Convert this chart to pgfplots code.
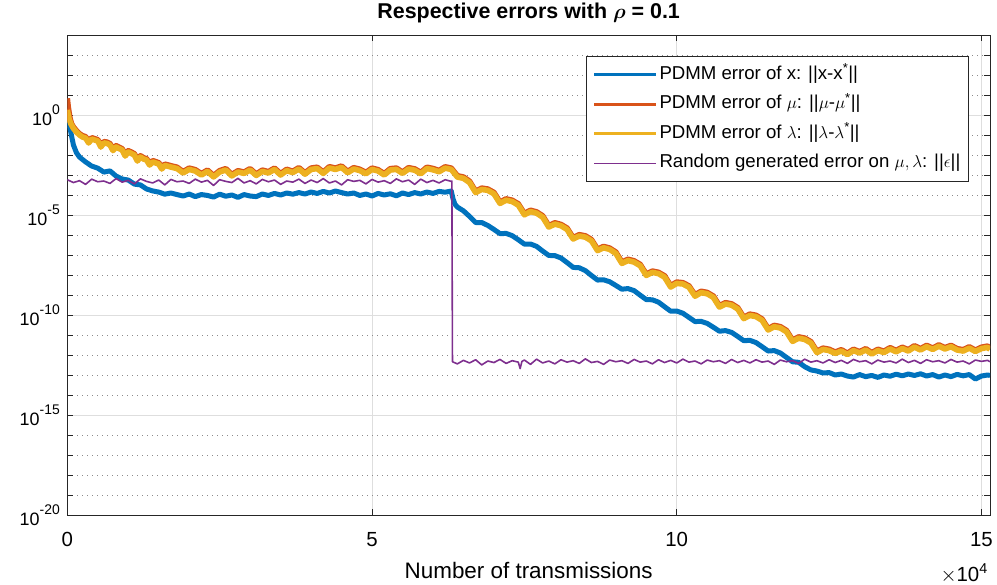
\documentclass[border=0pt]{standalone}
\usepackage{pgfplots}
\pgfplotsset{compat=1.18}
\usepackage{pgfplotstable}
\usepackage{fontspec}
\setmainfont{Liberation Sans}

\definecolor{mblue}{rgb}{0,0.447,0.741}
\definecolor{morange}{rgb}{0.85,0.325,0.098}
\definecolor{myellow}{rgb}{0.929,0.694,0.125}
\definecolor{mpurple}{rgb}{0.494,0.184,0.556}

% y tick label: 10 with a raised exponent
\newcommand{\tenpow}[1]{10\raisebox{0.62em}{\fontsize{14}{14}\selectfont #1}}

% PDMM error of x
\pgfplotstableread[row sep=\\]{x y\\
0 1.26\\ 500 0.18\\ 1000 0.032\\ 1500 0.013\\ 2000 7.9e-3\\ 3000 4.5e-3\\ 4000 2.8e-3\\ 5000 2.2e-3\\
6000 1.4e-3\\ 7000 1.6e-3\\ 8000 8.9e-4\\ 9000 6.3e-4\\ 10000 5.6e-4\\ 11000 3.5e-4\\ 12000 3.2e-4\\
13000 2.0e-4\\ 14000 1.6e-4\\ 15000 1.4e-4\\ 16000 1.1e-4\\ 17000 1.26e-4\\ 18000 1.05e-4\\ 19000 8.9e-5\\
20000 1.12e-4\\ 21000 8.3e-5\\ 22000 1.05e-4\\ 23000 9.5e-5\\ 24000 7.9e-5\\ 25000 1.1e-4\\ 26000 8.7e-5\\
27000 1.0e-4\\ 28000 7.6e-5\\ 29000 1.05e-4\\ 30000 8.9e-5\\ 31000 8.3e-5\\ 32000 1.12e-4\\ 33000 9.5e-5\\
34000 1.2e-4\\ 35000 1.0e-4\\ 36000 1.26e-4\\ 37000 1.1e-4\\ 38000 1.32e-4\\ 39000 1.12e-4\\ 40000 1.41e-4\\
41000 1.2e-4\\ 42000 1.51e-4\\ 43000 1.26e-4\\ 44000 1.58e-4\\ 45000 1.32e-4\\ 46000 1.12e-4\\ 47000 1.26e-4\\
48000 9.5e-5\\ 49000 1.12e-4\\ 50000 8.9e-5\\ 51000 1.2e-4\\ 52000 1.0e-4\\ 53000 1.15e-4\\ 54000 9.1e-5\\
55000 1.26e-4\\ 56000 1.05e-4\\ 57000 1.32e-4\\ 58000 1.12e-4\\ 59000 1.41e-4\\ 60000 1.2e-4\\ 61000 1.51e-4\\
62000 1.38e-4\\ 63000 1.58e-4\\ 63300 6.3e-5\\ 63600 3.5e-5\\ 64000 2.5e-5\\
65000 1.62e-5\\ 66000 8.5e-6\\ 67000 4.2e-6\\ 68000 4.2e-6\\ 69000 3.0e-6\\ 70000 1.9e-6\\ 71000 1.17e-6\\
72000 1.2e-6\\ 73000 9.3e-7\\ 74000 5.8e-7\\ 75000 3.5e-7\\ 76000 3.55e-7\\ 77000 2.7e-7\\ 78000 1.58e-7\\
79000 9.5e-8\\ 80000 9.3e-8\\ 81000 7.1e-8\\ 82000 4.2e-8\\ 83000 2.4e-8\\ 84000 2.3e-8\\ 85000 1.66e-8\\
86000 9.5e-9\\ 87000 5.6e-9\\ 88000 5.75e-9\\ 89000 4.6e-9\\ 90000 3.0e-9\\ 91000 1.95e-9\\ 92000 2.1e-9\\
93000 1.66e-9\\ 94000 9.8e-10\\ 95000 5.9e-10\\ 96000 5.75e-10\\ 97000 4.4e-10\\ 98000 2.6e-10\\ 99000 1.55e-10\\
100000 1.58e-10\\ 101000 1.23e-10\\ 102000 7.6e-11\\ 103000 4.7e-11\\ 104000 4.8e-11\\ 105000 3.8e-11\\
106000 2.45e-11\\ 107000 1.55e-11\\ 108000 1.66e-11\\ 109000 1.35e-11\\ 110000 8.5e-12\\ 111000 5.2e-12\\
112000 5.4e-12\\ 113000 4.2e-12\\ 114000 2.6e-12\\ 115000 1.58e-12\\ 116000 1.66e-12\\ 117000 1.26e-12\\
118000 7.6e-13\\ 119000 4.6e-13\\ 120000 4.3e-13\\ 121000 2.6e-13\\ 122000 1.8e-13\\ 123000 1.58e-13\\
124000 1.26e-13\\ 125000 1.32e-13\\ 126000 1.0e-13\\ 127000 1.12e-13\\ 128000 8.9e-14\\ 129000 7.9e-14\\
130000 1.05e-13\\ 131000 8.3e-14\\ 132000 9.5e-14\\ 133000 7.6e-14\\ 134000 1.0e-13\\ 135000 8.7e-14\\
136000 1.1e-13\\ 137000 9.1e-14\\ 138000 1.12e-13\\ 139000 9.5e-14\\ 140000 1.15e-13\\ 141000 8.9e-14\\
142000 1.05e-13\\ 143000 7.9e-14\\ 144000 1.0e-13\\ 145000 8.3e-14\\ 146000 1.07e-13\\ 147000 9.1e-14\\
148000 1.05e-13\\ 149000 6.3e-14\\ 150000 8.9e-14\\ 151000 1.0e-13\\ 151400 9.5e-14\\
}\xerr

% PDMM error of mu: first transmissions (later it runs along the lambda error)
\pgfplotstableread[row sep=\\]{x y\\
0 6.8\\ 150 2.5\\ 400 0.8\\ 700 0.33\\ 1000 0.23\\ 1500 0.15\\
}\mustart

% PDMM error of lambda
\pgfplotstableread[row sep=\\]{x y\\
0 1.78\\ 300 0.63\\ 600 0.355\\ 1000 0.214\\ 1500 0.141\\ 2000 0.1\\ 2500 7.9e-2\\ 3000 7.1e-2\\
3500 4.0e-2\\ 4000 6.3e-2\\ 4500 5.6e-2\\ 5000 5.0e-2\\ 5500 2.5e-2\\ 6000 4.0e-2\\ 6500 3.8e-2\\
7000 3.16e-2\\ 7500 1.66e-2\\ 8000 2.5e-2\\ 8500 2.1e-2\\ 9000 1.78e-2\\ 9500 8.9e-3\\ 10000 1.41e-2\\
10500 1.2e-2\\ 11000 1.0e-2\\ 11500 5.0e-3\\ 12000 7.9e-3\\ 12500 6.3e-3\\ 13000 5.6e-3\\ 13500 3.16e-3\\
14000 4.5e-3\\ 15000 3.55e-3\\ 15500 2.0e-3\\ 16000 3.0e-3\\ 17000 2.5e-3\\ 18000 2.1e-3\\ 19000 1.26e-3\\
20000 1.9e-3\\ 21000 1.58e-3\\ 22000 1.0e-3\\ 23000 1.51e-3\\ 24000 8.0e-4\\ 25000 1.41e-3\\ 26000 1.78e-3\\
27000 9.0e-4\\ 28000 1.41e-3\\ 29000 1.2e-3\\ 30000 1.78e-3\\ 31000 9.5e-4\\ 32000 1.51e-3\\ 33000 1.26e-3\\
34000 1.9e-3\\ 35000 1.0e-3\\ 36000 1.66e-3\\ 37000 1.32e-3\\ 38000 2.0e-3\\ 39000 1.1e-3\\ 40000 1.9e-3\\
41000 2.1e-3\\ 42000 1.2e-3\\ 43000 2.24e-3\\ 44000 1.9e-3\\ 45000 2.4e-3\\ 46000 1.3e-3\\ 47000 2.0e-3\\
48000 1.66e-3\\ 49000 1.15e-3\\ 50000 1.9e-3\\ 51000 1.58e-3\\ 52000 1.0e-3\\ 53000 1.78e-3\\ 54000 1.9e-3\\
55000 1.2e-3\\ 56000 2.0e-3\\ 57000 1.74e-3\\ 58000 1.15e-3\\ 59000 2.1e-3\\ 60000 1.82e-3\\ 61000 1.45e-3\\
62000 2.2e-3\\ 63000 1.9e-3\\ 64000 7.9e-4\\ 65000 6.8e-4\\ 66000 4.2e-4\\ 67000 1.32e-4\\ 68000 1.9e-4\\
69000 1.7e-4\\ 70000 1.15e-4\\ 71000 3.8e-5\\ 72000 5.5e-5\\ 73000 4.7e-5\\ 74000 3.1e-5\\ 75000 1.02e-5\\
76000 1.48e-5\\ 77000 1.23e-5\\ 78000 7.8e-6\\ 79000 2.5e-6\\ 80000 3.5e-6\\ 81000 2.9e-6\\ 82000 1.9e-6\\
83000 6.3e-7\\ 84000 8.9e-7\\ 85000 7.8e-7\\ 86000 5.1e-7\\ 87000 1.66e-7\\ 88000 2.3e-7\\ 89000 1.9e-7\\
90000 1.2e-7\\ 91000 3.8e-8\\ 92000 5.25e-8\\ 93000 4.4e-8\\ 94000 2.9e-8\\ 95000 9.5e-9\\ 96000 1.35e-8\\
97000 1.17e-8\\ 98000 7.8e-9\\ 99000 2.5e-9\\ 100000 3.8e-9\\ 101000 3.55e-9\\ 102000 2.45e-9\\
103000 8.7e-10\\ 104000 1.32e-9\\ 105000 1.15e-9\\ 106000 7.6e-10\\ 107000 2.5e-10\\ 108000 3.55e-10\\
109000 3.1e-10\\ 110000 2.0e-10\\ 111000 6.6e-11\\ 112000 9.5e-11\\ 113000 8.3e-11\\ 114000 5.4e-11\\
115000 1.78e-11\\ 116000 2.6e-11\\ 117000 2.24e-11\\ 118000 1.45e-11\\ 119000 4.8e-12\\ 120000 6.9e-12\\
121000 6.0e-12\\ 122000 4.0e-12\\ 123000 1.32e-12\\ 124000 1.9e-12\\ 125000 1.66e-12\\ 126000 1.2e-12\\
127000 1.58e-12\\ 128000 1.05e-12\\ 129000 1.66e-12\\ 130000 1.26e-12\\ 131000 1.78e-12\\ 132000 1.12e-12\\
133000 1.66e-12\\ 134000 1.32e-12\\ 135000 2.0e-12\\ 136000 1.45e-12\\ 137000 2.1e-12\\ 138000 1.58e-12\\
139000 2.5e-12\\ 140000 1.78e-12\\ 141000 2.6e-12\\ 142000 1.9e-12\\ 143000 2.75e-12\\ 144000 2.0e-12\\
145000 2.6e-12\\ 146000 1.78e-12\\ 147000 1.58e-12\\ 148000 2.2e-12\\ 149000 1.5e-12\\ 150000 2.1e-12\\
151000 2.4e-12\\ 151400 1.9e-12\\
}\lambdaerr

% random error added on mu and lambda
\pgfplotstableread[row sep=\\]{x y\\
0 5.8e-4\\ 1000 4.2e-4\\ 2000 5.2e-4\\ 3000 3.4e-4\\ 4000 6.2e-4\\ 5000 4.6e-4\\ 6000 5.0e-4\\ 7000 3.8e-4\\
8000 6.6e-4\\ 9000 4.4e-4\\ 10000 5.4e-4\\ 11000 3.6e-4\\ 12000 6.4e-4\\ 13000 4.8e-4\\ 14000 4.0e-4\\
15000 5.6e-4\\ 16000 3.2e-4\\ 17000 6.0e-4\\ 18000 4.6e-4\\ 19000 5.0e-4\\ 20000 3.8e-4\\ 21000 6.2e-4\\
22000 4.4e-4\\ 23000 5.4e-4\\ 24000 3.0e-4\\ 25000 5.8e-4\\ 26000 4.8e-4\\ 27000 4.2e-4\\ 28000 6.8e-4\\
29000 4.0e-4\\ 30000 5.2e-4\\ 31000 3.6e-4\\ 32000 6.0e-4\\ 33000 4.6e-4\\ 34000 5.6e-4\\ 35000 3.4e-4\\
36000 5.0e-4\\ 37000 4.4e-4\\ 38000 6.2e-4\\ 39000 3.8e-4\\ 40000 5.6e-4\\ 41000 4.2e-4\\ 42000 6.6e-4\\
43000 4.0e-4\\ 44000 5.0e-4\\ 45000 3.2e-4\\ 46000 5.8e-4\\ 47000 4.8e-4\\ 48000 5.4e-4\\ 49000 3.6e-4\\
50000 6.0e-4\\ 51000 4.4e-4\\ 52000 5.2e-4\\ 53000 3.8e-4\\ 54000 6.4e-4\\ 55000 4.6e-4\\ 56000 5.6e-4\\
57000 3.4e-4\\ 58000 6.2e-4\\ 59000 4.2e-4\\ 60000 5.4e-4\\ 61000 4.0e-4\\ 62000 5.8e-4\\ 63000 4.8e-4\\
63100 5.0e-4\\ 63200 4.6e-13\\ 64000 3.6e-13\\ 65000 5.4e-13\\ 66000 4.0e-13\\ 67000 5.8e-13\\
68000 3.2e-13\\ 69000 5.0e-13\\ 70000 4.2e-13\\ 71000 6.0e-13\\ 72000 3.8e-13\\ 73000 5.2e-13\\
74000 4.4e-13\\ 74300 2.1e-13\\ 74600 4.8e-13\\ 75000 5.6e-13\\ 76000 3.4e-13\\ 77000 6.2e-13\\
78000 4.0e-13\\ 79000 5.0e-13\\ 80000 3.6e-13\\ 81000 5.8e-13\\ 82000 4.4e-13\\ 83000 5.2e-13\\
84000 3.8e-13\\ 85000 6.4e-13\\ 86000 4.2e-13\\ 87000 4.8e-13\\ 88000 3.4e-13\\ 89000 5.6e-13\\
90000 4.6e-13\\ 91000 5.2e-13\\ 92000 3.8e-13\\ 93000 6.0e-13\\ 94000 4.4e-13\\ 95000 5.0e-13\\
96000 3.6e-13\\ 97000 5.8e-13\\ 98000 4.2e-13\\ 99000 5.4e-13\\ 100000 4.0e-13\\ 101000 6.2e-13\\
102000 4.4e-13\\ 103000 5.0e-13\\ 104000 3.6e-13\\ 105000 5.6e-13\\ 106000 4.6e-13\\ 107000 5.2e-13\\
108000 3.8e-13\\ 109000 6.0e-13\\ 110000 4.2e-13\\ 111000 5.4e-13\\ 112000 4.0e-13\\ 113000 5.8e-13\\
114000 4.4e-13\\ 115000 5.0e-13\\ 116000 3.4e-13\\ 117000 5.6e-13\\ 118000 4.6e-13\\ 119000 5.2e-13\\
120000 3.8e-13\\ 121000 6.2e-13\\ 122000 4.4e-13\\ 123000 5.2e-13\\ 124000 4.0e-13\\ 125000 5.8e-13\\
126000 4.2e-13\\ 127000 5.4e-13\\ 128000 3.8e-13\\ 129000 6.0e-13\\ 130000 4.6e-13\\ 131000 5.2e-13\\
132000 3.6e-13\\ 133000 5.6e-13\\ 134000 4.4e-13\\ 135000 5.0e-13\\ 136000 4.0e-13\\ 137000 6.2e-13\\
138000 4.2e-13\\ 139000 5.4e-13\\ 140000 3.8e-13\\ 141000 5.8e-13\\ 142000 4.6e-13\\ 143000 5.2e-13\\
144000 4.0e-13\\ 145000 6.0e-13\\ 146000 4.4e-13\\ 147000 5.0e-13\\ 148000 3.6e-13\\ 149000 5.6e-13\\
150000 4.8e-13\\ 151000 5.4e-13\\ 151400 4.6e-13\\
}\epserr

\begin{document}
\begin{tikzpicture}
\begin{axis}[
  scale only axis, width=922.7bp, height=480bp,
  xmin=0, xmax=151400,
  ymode=log, log basis y=10, ymin=1e-20, ymax=1e4,
  xtick={0,50000,100000,150000}, xticklabels={0,5,10,15}, scaled x ticks=false,
  ytick={1e-20,1e-15,1e-10,1e-5,1},
  yticklabels={\tenpow{-20},\tenpow{-15},\tenpow{-10},\tenpow{-5},\tenpow{0}},
  minor ytick={1e-19,1e-18,1e-17,1e-16,1e-14,1e-13,1e-12,1e-11,1e-9,1e-8,1e-7,1e-6,1e-4,1e-3,1e-2,1e-1,1e1,1e2,1e3},
  xmajorgrids, ymajorgrids, yminorgrids,
  major grid style={draw=black!13, line width=0.8bp},
  minor grid style={draw=black!45, line width=0.8bp, dash pattern=on 1bp off 4bp},
  tick align=inside,
  major tick length=6bp, minor tick length=6bp,
  axis line style={draw=black!85, line width=0.8bp},
  every tick/.style={draw=black!85, line width=0.8bp},
  yticklabel style={font=\fontsize{18}{20}\selectfont, xshift=-4bp},
  xticklabel style={font=\fontsize{20.5}{22}\selectfont, anchor=base, yshift=-31.5bp},
  xlabel={Number of transmissions},
  xlabel style={font=\fontsize{22.5}{26}\selectfont, at={(axis description cs:0.5,0)}, anchor=base, yshift=-63bp},
  title={\textbf{Respective errors with {\boldmath$\rho$} = 0.1}},
  title style={font=\fontsize{21.5}{24}\selectfont, at={(axis description cs:0.5,1)}, anchor=base, yshift=10.5bp},
  legend style={at={(0.977,0.956)}, anchor=north east, draw=black!85, line width=0.8bp, fill=white,
    font=\fontsize{18.7}{21}\selectfont, row sep=11bp, inner xsep=6bp, inner ysep=9bp,
    nodes={inner ysep=0pt, text height=13.5bp, text depth=5bp}},
  legend cell align=left,
  legend image code/.code={\draw[#1] (0bp,0bp) -- (62bp,0bp);},
]
\addlegendimage{mblue, line width=2.8bp}
\addlegendentry{PDMM error of x: ||x-x\textsuperscript{*}||}
\addlegendimage{morange, line width=2.8bp}
\addlegendentry{PDMM error of $\mu$: ||$\mu$-$\mu$\textsuperscript{*}||}
\addlegendimage{myellow, line width=2.8bp}
\addlegendentry{PDMM error of $\lambda$: ||$\lambda$-$\lambda$\textsuperscript{*}||}
\addlegendimage{mpurple, line width=1.3bp}
\addlegendentry{Random generated error on $\mu,\lambda$: ||$\epsilon$||}

\addplot[mblue, line width=5bp, line join=round, forget plot] table {\xerr};
\addplot[morange, line width=5.6bp, line join=round, forget plot] table {\mustart};
\addplot[morange, line width=5.6bp, line join=round, forget plot, yshift=1.3bp] table {\lambdaerr};
\addplot[myellow, line width=5.6bp, line join=round, forget plot] table {\lambdaerr};
\addplot[mpurple, line width=1.6bp, line join=round, forget plot] table {\epserr};
\end{axis}
\node[anchor=base east, inner sep=0pt, font=\fontsize{20.5}{22}\selectfont]
  at ([shift={(-2bp,-66bp)}]current axis.south east) {$\times$10\textsuperscript{4}};
\pgfresetboundingbox
\path ([shift={(-67.3bp,-70bp)}]current axis.south west) rectangle ([shift={(7bp,35bp)}]current axis.north east);
\end{tikzpicture}
\end{document}
